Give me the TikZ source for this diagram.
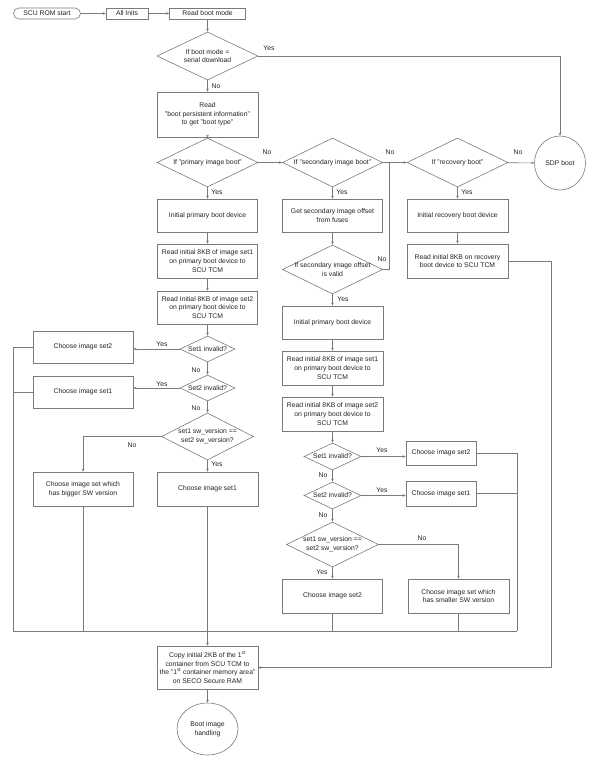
\documentclass[tikz,border=0pt]{standalone}
\usepackage{fontspec}
\setmainfont{Liberation Sans}
\usetikzlibrary{shapes.geometric,arrows.meta}
\definecolor{lc}{HTML}{7A7A7A}
\definecolor{tc}{HTML}{222222}
\begin{document}
\begin{tikzpicture}[x=1pt,y=-1pt,
  every node/.style={font=\fontsize{6.8}{8.6}\selectfont, text=tc},
  box/.style={draw=lc, line width=0.6pt, rectangle, align=center, inner sep=1pt},
  bx/.style 2 args={box, minimum width=#1, minimum height=#2},
  dia/.style 2 args={draw=lc, line width=0.6pt, diamond, inner sep=0pt, minimum width=#1, minimum height=#2},
  ell/.style 2 args={draw=lc, line width=0.6pt, ellipse, inner sep=0pt, align=center, minimum width=#1, minimum height=#2},
  txt/.style={align=center, inner sep=0pt},
  lab/.style={inner sep=0pt},
  ln/.style={draw=lc, line width=0.6pt},
  arr/.style={ln, -{Stealth[length=3pt,width=2.6pt]}},
]
\useasboundingbox (0,0) rectangle (603,761);
% top row
\node[box, rounded corners=5.5pt, minimum width=67pt, minimum height=11pt] (start) at (47,13.5) {SCU ROM start};
\node[bx={42pt}{11pt}] (inits) at (127,13.5) {All Inits};
\node[bx={76pt}{11pt}] (rbm) at (207.5,13.5) {Read boot mode};
\node[dia={101pt}{48pt}] (d1) at (207.5,56) {};
\node[txt] (d1t) at (d1) {If boot mode =\\serial download};
\node[bx={101pt}{45pt}] (rbp) at (207.5,114.5) {Read\\"boot persistent information"\\to get "boot type"};
% decision row
\node[dia={101pt}{49pt}] (dp) at (207.5,162.5) {};
\node[txt] (dpt) at (dp) {If "primary image boot"};
\node[dia={100pt}{49pt}] (ds) at (332.5,162.5) {};
\node[txt] (dst) at (ds) {If "secondary image boot"};
\node[dia={101pt}{49pt}] (dr) at (457.5,162.5) {};
\node[txt] (drt) at (dr) {If "recovery boot"};
\node[ell={51pt}{54pt}] (sdp) at (560,163) {SDP boot};
% column 1
\node[bx={100pt}{33pt}] (ip1) at (207.5,215.5) {Initial primary boot device};
\node[bx={100pt}{34pt}] (rs1) at (207.5,261) {Read initial 8KB of image set1\\on primary boot device to\\SCU TCM};
\node[bx={100pt}{33pt}] (rs2) at (207.5,307.5) {Read Initial 8KB of image set2\\on primary boot device to\\SCU TCM};
\node[dia={55pt}{26pt}] (da1) at (207.5,349) {};
\node[txt] (da1t) at (da1) {Set1 invalid?};
\node[dia={55pt}{26pt}] (da2) at (207.5,388) {};
\node[txt] (da2t) at (da2) {Set2 invalid?};
\node[dia={92pt}{47pt}] (dv1) at (207.5,436.5) {};
\node[txt] (dv1t) at (dv1) {set1 sw\_version ==\\set2 sw\_version?};
\node[bx={101pt}{34pt}] (cs1) at (207.5,489) {Choose image set1};
\node[bx={100pt}{32pt}] (c2L) at (83,347) {Choose image set2};
\node[bx={100pt}{32pt}] (c1L) at (83,392) {Choose image set1};
\node[bx={100pt}{34pt}] (big) at (83,489) {Choose image set which\\has bigger SW version};
% column 2
\node[bx={100pt}{33pt}] (gs) at (332.5,215.5) {Get secondary image offset\\from fuses};
\node[dia={100pt}{49pt}] (dvl) at (332.5,269.5) {};
\node[txt] (dvlt) at (dvl) {If secondary image offset\\is valid};
\node[bx={101pt}{33pt}] (ip2) at (332.5,322.5) {Initial primary boot device};
\node[bx={101pt}{34pt}] (rb1) at (332.5,368) {Read initial 8KB of image set1\\on primary boot device to\\SCU TCM};
\node[bx={101pt}{34pt}] (rb2) at (332.5,414) {Read initial 8KB of image set2\\on primary boot device to\\SCU TCM};
\node[dia={57pt}{27pt}] (db1) at (332.5,456.5) {};
\node[txt] (db1t) at (db1) {Set1 invalid?};
\node[dia={57pt}{27pt}] (db2) at (332.5,495.5) {};
\node[txt] (db2t) at (db2) {Set2 invalid?};
\node[dia={92pt}{45pt}] (dv2) at (332.5,544.5) {};
\node[txt] (dv2t) at (dv2) {set1 sw\_version ==\\set2 sw\_version?};
\node[bx={100pt}{34pt}] (cs2c) at (332.5,596) {Choose image set2};
\node[bx={70pt}{24pt}] (cs2b) at (441,453) {Choose image set2};
\node[bx={70pt}{25pt}] (cs1b) at (441,493.5) {Choose image set1};
\node[bx={101pt}{34pt}] (sml) at (458.5,596) {Choose image set which\\has smaller SW version};
% column 3
\node[bx={101pt}{33pt}] (ir) at (457.5,215.5) {Initial recovery boot device};
\node[bx={101pt}{34pt}] (rr) at (457.5,261) {Read initial 8KB on recovery\\boot device to SCU TCM};
% bottom
\node[bx={101pt}{43pt}] (cp) at (207.5,667.5) {Copy initial 2KB of the 1\textsuperscript{st}\\container from SCU TCM to\\the "1\textsuperscript{st} container memory area"\\on SECO Secure RAM};
\node[ell={61pt}{52pt}] (bi) at (207.5,729) {Boot image\\handling};
% coordinates
\coordinate (jn) at (389,162.5);
\coordinate (lt) at (13,348);
\coordinate (lb) at (13,631);
\coordinate (rb) at (517,631);
\coordinate (rt) at (517,453);
\coordinate (rx) at (551,262);
% connectors
\draw[arr] (start) -- (inits);
\draw[arr] (inits) -- (rbm);
\draw[arr] (rbm) -- (d1);
\draw[arr] (d1.east) -| (sdp.north);
\draw[arr] (d1) -- (rbp);
\draw[arr] (rbp) -- (dp);
\draw[arr] (dp) -- (ds);
\draw[arr] (ds) -- (dr);
\draw[arr] (dr) -- (sdp);
\draw[ln] (dvl.east) -| (jn);
\draw[arr] (dp) -- (ip1);
\draw[arr] (ip1) -- (rs1);
\draw[arr] (rs1) -- (rs2);
\draw[arr] (rs2) -- (da1);
\draw[arr] (da1) -- (da2);
\draw[arr] (da2) -- (dv1);
\draw[arr] (dv1) -- (cs1);
\draw[arr] (da1.west) -- (da1.west -| c2L.east);
\draw[arr] (da2.west) -- (da2.west -| c1L.east);
\draw[arr] (dv1.west) -| (big.north);
\draw[ln] (c2L.west) -- (c2L.west -| lt) -- (lb) -- (rb);
\draw[ln] (c1L.west) -- (c1L.west -| lt);
\draw[ln] (big.south) -- (big.south |- lb);
\draw[arr] (cs1) -- (cp);
\draw[arr] (ds) -- (gs);
\draw[arr] (gs) -- (dvl);
\draw[arr] (dvl) -- (ip2);
\draw[arr] (ip2) -- (rb1);
\draw[arr] (rb1) -- (rb2);
\draw[arr] (rb2) -- (db1);
\draw[arr] (db1) -- (db2);
\draw[arr] (db2) -- (dv2);
\draw[arr] (dv2) -- (cs2c);
\draw[arr] (db1.east) -- (db1.east -| cs2b.west);
\draw[arr] (db2.east) -- (db2.east -| cs1b.west);
\draw[arr] (dv2.east) -| (sml.north);
\draw[ln] (cs2b.east) -- (cs2b.east -| rt) -- (rb);
\draw[ln] (cs1b.east) -- (cs1b.east -| rt);
\draw[ln] (cs2c.south) -- (cs2c.south |- rb);
\draw[ln] (sml.south) -- (sml.south |- rb);
\draw[arr] (dr) -- (ir);
\draw[arr] (ir) -- (rr);
\draw[arr] (rr.east) -- (rr.east -| rx) |- (cp.east);
\draw[arr] (cp) -- (bi);
% labels
\node[lab] (l1) at (269,48) {Yes};
\node[lab] (l2) at (216,86) {No};
\node[lab] (l3) at (267,152) {No};
\node[lab] (l4) at (390,152) {No};
\node[lab] (l5) at (518,152) {No};
\node[lab] (l6) at (217,192) {Yes};
\node[lab] (l7) at (342,192) {Yes};
\node[lab] (l8) at (467,192) {Yes};
\node[lab] (l9) at (382,259) {No};
\node[lab] (l10) at (343,299) {Yes};
\node[lab] (l11) at (162,344) {Yes};
\node[lab] (l12) at (196,370) {No};
\node[lab] (l13) at (162,384) {Yes};
\node[lab] (l14) at (196,408) {No};
\node[lab] (l15) at (132,445) {No};
\node[lab] (l16) at (217,464) {Yes};
\node[lab] (l17) at (382,450) {Yes};
\node[lab] (l18) at (323,475) {No};
\node[lab] (l19) at (382,490) {Yes};
\node[lab] (l20) at (323,515) {No};
\node[lab] (l21) at (422,538) {No};
\node[lab] (l22) at (322,572) {Yes};
\end{tikzpicture}
\end{document}
